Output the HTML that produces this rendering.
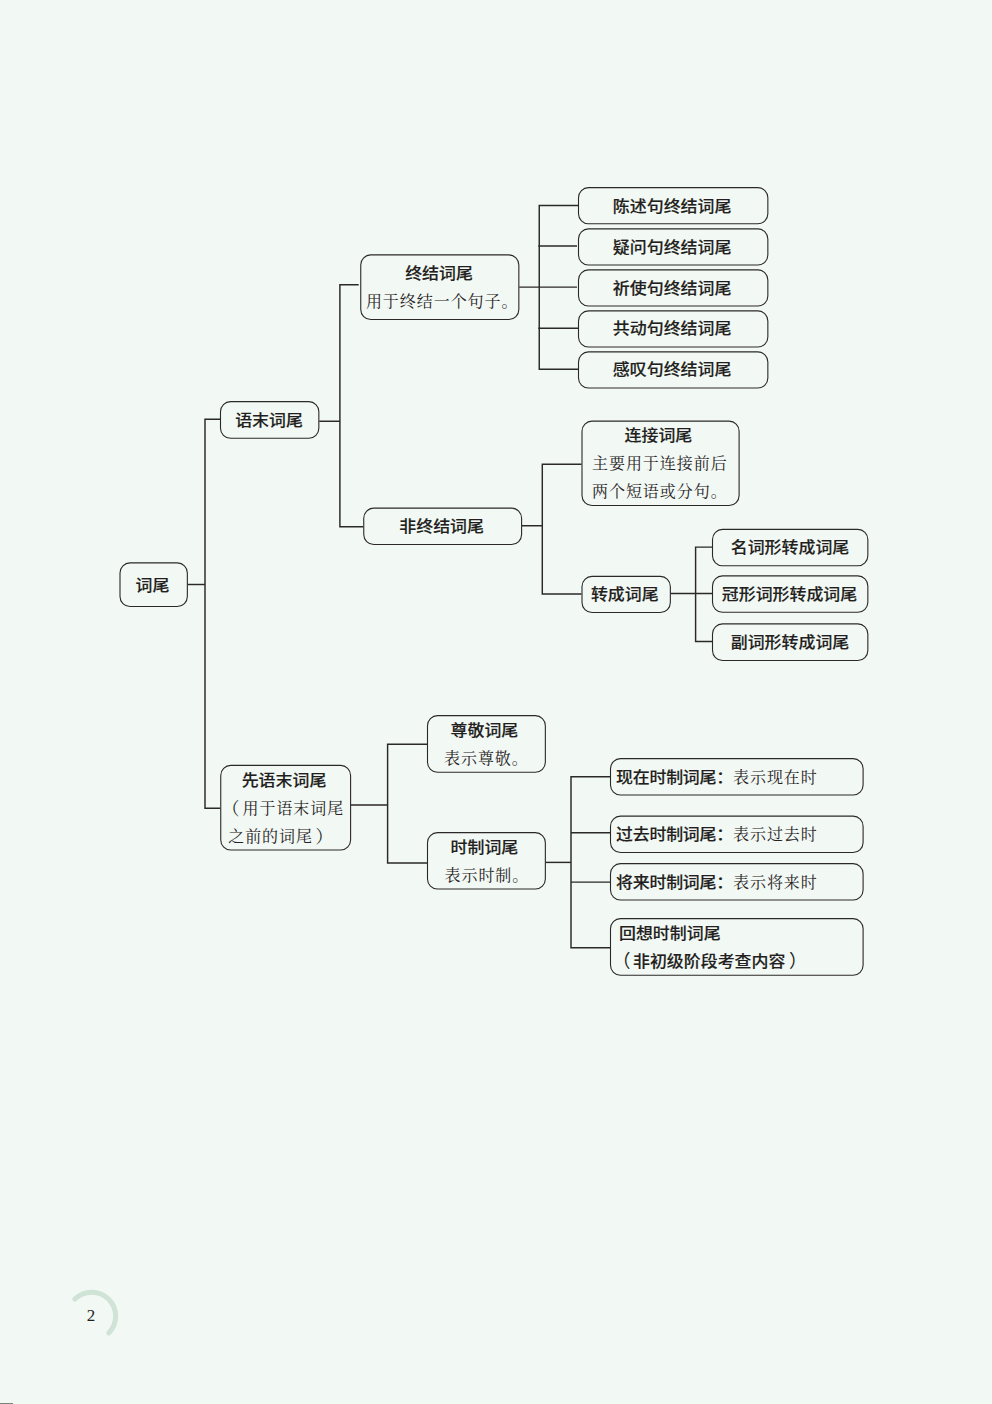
<!DOCTYPE html>
<html lang="zh-CN">
<head>
<meta charset="utf-8">
<title>词尾</title>
<style>
html,body{margin:0;padding:0;background:#f2f8f4;}
body{width:992px;height:1404px;overflow:hidden;position:relative;}
svg{position:absolute;left:0;top:0;display:block;}
.bx{fill:none;stroke:#2b2828;stroke-width:1.1;}
.ln{fill:none;stroke:#2b2828;stroke-width:1.45;stroke-linejoin:miter;}
text{font-size:16.95px;fill:#231f20;}
.b{font-family:"Liberation Sans", "Noto Sans CJK SC", sans-serif;font-weight:500;stroke:#231f20;stroke-width:0.15px;stroke-linejoin:round;}
.s{font-family:"Liberation Serif", "Noto Serif CJK SC", serif;font-weight:400;fill:#262223;font-size:16px;letter-spacing:0.95px;}
.bt{letter-spacing:-0.22px;}
.sp{font-family:"Liberation Serif", "Noto Serif CJK SC", serif;font-weight:400;fill:#231f20;font-size:17.5px;}
.bp{font-family:"Liberation Sans", "Noto Sans CJK SC", sans-serif;font-weight:400;fill:#231f20;font-size:18px;}
.pn{font-family:"Liberation Serif", "Noto Serif CJK SC", serif;font-size:17px;fill:#231f20;}
</style>
</head>
<body>
<svg width="992" height="1404" viewBox="0 0 992 1404">

<g class="ln">
<path d="M187.75 584.5H205"/>
<path d="M220 419.25H205V808.25H220.25"/>
<path d="M319.25 421.25H340"/>
<path d="M358.7 284.75H339.9V526.75H363.25"/>
<path d="M519.25 287.1H577"/>
<path d="M578 205.5H539.25V369.25H578"/>
<path d="M538.3 246H577"/>
<path d="M538.3 328.2H578"/>
<path d="M522 525.75H542.3"/>
<path d="M581.5 464.25H542.3V593.9H581.5"/>
<path d="M670.75 593.5H712"/>
<path d="M712 547.1H695.6V641.4H712"/>
<path d="M351 805H387.6"/>
<path d="M427 744.25H387.6V863H427"/>
<path d="M545.75 862.4H571"/>
<path d="M610 776.75H571V947.75H610"/>
<path d="M571 832.75H610"/>
<path d="M571 882.1H610"/>
</g>
<g class="bx">
<rect x="120.0" y="562.9" width="67.35" height="43.6" rx="10" ry="10"/>
<rect x="220.5" y="401.65" width="98.35" height="36.6" rx="10" ry="10"/>
<rect x="360.75" y="254.9" width="158.1" height="64.6" rx="10" ry="10"/>
<rect x="578.5" y="187.65" width="189.35" height="36.1" rx="10" ry="10"/>
<rect x="578.5" y="228.9" width="189.35" height="36.1" rx="10" ry="10"/>
<rect x="578.5" y="269.9" width="189.35" height="36.1" rx="10" ry="10"/>
<rect x="578.5" y="310.9" width="189.35" height="36.1" rx="10" ry="10"/>
<rect x="578.5" y="351.9" width="189.35" height="36.1" rx="10" ry="10"/>
<rect x="363.75" y="508.15" width="157.85" height="36.35" rx="10" ry="10"/>
<rect x="582.0" y="421.15" width="157.1" height="84.35" rx="10" ry="10"/>
<rect x="582.0" y="576.4" width="88.35" height="36.1" rx="10" ry="10"/>
<rect x="712.5" y="529.4" width="155.35" height="36.35" rx="10" ry="10"/>
<rect x="712.5" y="575.9" width="155.35" height="36.35" rx="10" ry="10"/>
<rect x="712.5" y="623.9" width="155.35" height="36.6" rx="10" ry="10"/>
<rect x="220.75" y="765.4" width="129.85" height="84.6" rx="10" ry="10"/>
<rect x="427.5" y="715.65" width="117.85" height="56.6" rx="10" ry="10"/>
<rect x="427.5" y="832.65" width="117.85" height="56.35" rx="10" ry="10"/>
<rect x="610.5" y="758.65" width="252.6" height="36.35" rx="10" ry="10"/>
<rect x="610.5" y="816.15" width="252.6" height="36.35" rx="10" ry="10"/>
<rect x="610.5" y="863.65" width="252.6" height="36.35" rx="10" ry="10"/>
<rect x="610.5" y="918.65" width="252.6" height="56.6" rx="10" ry="10"/>
</g>
<text transform="translate(152.5 590.7) scale(1 0.92)" text-anchor="middle" class="b">词尾</text>
<text transform="translate(269 425.7) scale(1 0.92)" text-anchor="middle" class="b">语末词尾</text>
<text transform="translate(439 278.7) scale(1 0.92)" text-anchor="middle" class="b">终结词尾</text>
<text x="365.9" y="307.2" class="s">用于终结一个句子。</text>
<text transform="translate(672.1 211.7) scale(1 0.92)" text-anchor="middle" class="b">陈述句终结词尾</text>
<text transform="translate(672.1 252.7) scale(1 0.92)" text-anchor="middle" class="b">疑问句终结词尾</text>
<text transform="translate(672.1 293.7) scale(1 0.92)" text-anchor="middle" class="b">祈使句终结词尾</text>
<text transform="translate(672.1 334.4) scale(1 0.92)" text-anchor="middle" class="b">共动句终结词尾</text>
<text transform="translate(672.1 374.7) scale(1 0.92)" text-anchor="middle" class="b">感叹句终结词尾</text>
<text transform="translate(441.6 531.7) scale(1 0.92)" text-anchor="middle" class="b">非终结词尾</text>
<text transform="translate(658.4 440.7) scale(1 0.92)" text-anchor="middle" class="b">连接词尾</text>
<text x="592.0" y="469.2" class="s">主要用于连接前后</text>
<text x="592.0" y="497.4" class="s">两个短语或分句。</text>
<text transform="translate(624.75 599.7) scale(1 0.92)" text-anchor="middle" class="b">转成词尾</text>
<text transform="translate(790 552.7) scale(1 0.92)" text-anchor="middle" class="b">名词形转成词尾</text>
<text transform="translate(789.5 599.7) scale(1 0.92)" text-anchor="middle" class="b">冠形词形转成词尾</text>
<text transform="translate(790 647.7) scale(1 0.92)" text-anchor="middle" class="b">副词形转成词尾</text>
<text transform="translate(284 785.7) scale(1 0.92)" text-anchor="middle" class="b">先语末词尾</text>
<text x="222.0" y="814.7" class="sp">（</text>
<text x="242.5" y="814.2" class="s">用于语末词尾</text>
<text x="228.2" y="842.2" class="s">之前的词尾</text>
<text x="315.5" y="842.9" class="sp">）</text>
<text transform="translate(484.4 735.7) scale(1 0.92)" text-anchor="middle" class="b">尊敬词尾</text>
<text x="444" y="764.2" class="s">表示尊敬。</text>
<text transform="translate(484.4 852.7) scale(1 0.92)" text-anchor="middle" class="b">时制词尾</text>
<text x="444.5" y="881.2" class="s">表示时制。</text>
<text transform="translate(616 782.7) scale(1 0.92)" class="b bt">现在时制词尾：</text>
<text x="733" y="783.2" class="s">表示现在时</text>
<text transform="translate(616 839.7) scale(1 0.92)" class="b bt">过去时制词尾：</text>
<text x="733" y="840.2" class="s">表示过去时</text>
<text transform="translate(616 887.7) scale(1 0.92)" class="b bt">将来时制词尾：</text>
<text x="733" y="888.2" class="s">表示将来时</text>
<text transform="translate(619 938.7) scale(1 0.92)" class="b">回想时制词尾</text>
<text x="612.5" y="967.4" class="bp">（</text>
<text transform="translate(633 966.7) scale(1 0.92)" class="b">非初级阶段考查内容</text>
<text x="789" y="967.4" class="bp">）</text>
<path d="M74.83 1299.03A24 24 0 0 1 108.77 1332.97" fill="none" stroke="#cfe3d6" stroke-width="5" stroke-linecap="round"/>
<text x="91" y="1321.2" text-anchor="middle" class="pn">2</text>
<rect x="0" y="1403" width="13" height="1" fill="#7f7f7f"/>
</svg>
</body>
</html>
